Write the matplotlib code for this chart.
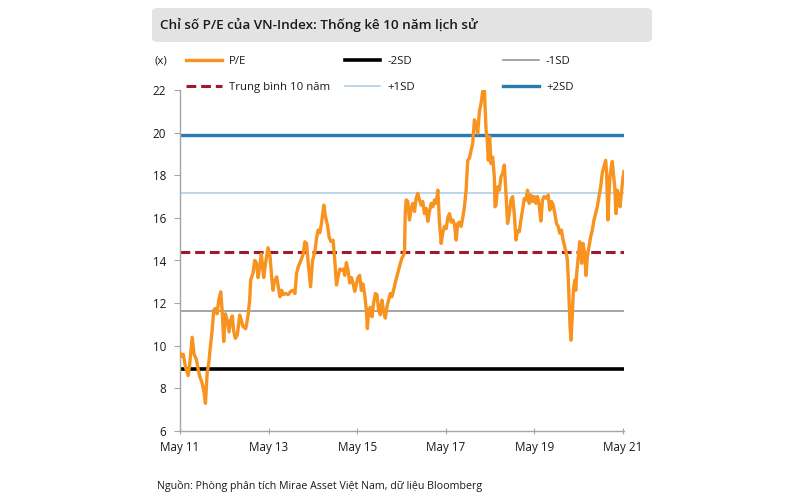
import matplotlib
matplotlib.use("Agg")
import matplotlib.pyplot as plt
import matplotlib.dates as mdates
from matplotlib.patches import FancyBboxPatch
import pandas as pd

plt.rcParams['font.family'] = ['Open Sans', 'Noto Sans', 'DejaVu Sans']

# decimal-year time stamps and P/E values
years = [
    2011.333, 2011.362, 2011.401, 2011.452, 2011.513, 2011.551, 2011.603, 2011.648, 2011.700, 2011.738,
    2011.777, 2011.829, 2011.874, 2011.903, 2011.941, 2011.979, 2012.015, 2012.054, 2012.092, 2012.128,
    2012.166, 2012.205, 2012.250, 2012.286, 2012.317, 2012.353, 2012.398, 2012.437, 2012.475, 2012.511,
    2012.542, 2012.579, 2012.624, 2012.678, 2012.714, 2012.752, 2012.813, 2012.865, 2012.903, 2012.925,
    2012.977, 2013.015, 2013.051, 2013.090, 2013.128, 2013.164, 2013.218, 2013.254, 2013.315, 2013.360,
    2013.398, 2013.428, 2013.457, 2013.511, 2013.547, 2013.585, 2013.624, 2013.660, 2013.714, 2013.772,
    2013.826, 2013.885, 2013.923, 2013.961, 2013.997, 2014.058, 2014.110, 2014.148, 2014.187, 2014.223,
    2014.277, 2014.322, 2014.374, 2014.412, 2014.448, 2014.486, 2014.524, 2014.576, 2014.615, 2014.660,
    2014.696, 2014.734, 2014.786, 2014.824, 2014.862, 2014.898, 2014.937, 2014.975, 2015.020, 2015.049,
    2015.087, 2015.124, 2015.162, 2015.200, 2015.236, 2015.275, 2015.313, 2015.349, 2015.387, 2015.425,
    2015.461, 2015.500, 2015.538, 2015.561, 2015.590, 2015.628, 2015.664, 2015.702, 2015.741, 2015.777,
    2015.815, 2015.853, 2015.889, 2015.928, 2015.966, 2016.002, 2016.040, 2016.079, 2016.115, 2016.153,
    2016.191, 2016.227, 2016.266, 2016.304, 2016.340, 2016.378, 2016.401, 2016.416, 2016.439, 2016.475,
    2016.513, 2016.552, 2016.588, 2016.626, 2016.664, 2016.700, 2016.739, 2016.777, 2016.813, 2016.851,
    2016.889, 2016.926, 2016.964, 2017.002, 2017.038, 2017.076, 2017.115, 2017.151, 2017.189, 2017.227,
    2017.263, 2017.302, 2017.340, 2017.376, 2017.414, 2017.453, 2017.489, 2017.527, 2017.565, 2017.601,
    2017.639, 2017.678, 2017.714, 2017.752, 2017.790, 2017.826, 2017.865, 2017.903, 2017.939, 2017.977,
    2018.016, 2018.052, 2018.090, 2018.128, 2018.164, 2018.203, 2018.241, 2018.263, 2018.293, 2018.322,
    2018.353, 2018.390, 2018.428, 2018.443, 2018.466, 2018.502, 2018.540, 2018.579, 2018.615, 2018.653,
    2018.691, 2018.727, 2018.766, 2018.804, 2018.840, 2018.878, 2018.917, 2018.953, 2018.991, 2019.029,
    2019.065, 2019.103, 2019.142, 2019.178, 2019.216, 2019.254, 2019.290, 2019.329, 2019.367, 2019.403,
    2019.441, 2019.480, 2019.516, 2019.554, 2019.606, 2019.644, 2019.682, 2019.718, 2019.757, 2019.795,
    2019.831, 2019.869, 2019.907, 2019.943, 2019.982, 2020.020, 2020.056, 2020.079, 2020.101, 2020.124,
    2020.139, 2020.162, 2020.191, 2020.214, 2020.245, 2020.268, 2020.290, 2020.326, 2020.358, 2020.380,
    2020.403, 2020.432, 2020.470, 2020.500, 2020.529, 2020.567, 2020.606, 2020.642, 2020.680, 2020.718,
    2020.754, 2020.793, 2020.831, 2020.867, 2020.905, 2020.944, 2020.966, 2020.995, 2021.018, 2021.040,
    2021.070, 2021.092, 2021.115, 2021.147, 2021.176, 2021.205, 2021.236, 2021.266, 2021.295, 2021.326,
    2021.356,
]
pe = [
    9.65, 9.5, 9.6, 9.0, 8.6, 9.2, 10.4, 9.6, 9.35, 8.9,
    8.55, 8.24, 7.8, 7.3, 8.7, 9.2, 9.95, 10.7, 11.67, 11.75,
    11.5, 12.14, 12.53, 11.5, 10.2, 11.5, 11.2, 10.65, 11.2, 11.4,
    10.7, 10.35, 10.5, 11.44, 11.2, 10.9, 10.8, 11.4, 12.14, 13.08,
    13.4, 14.0, 13.9, 13.2, 13.7, 14.3, 13.2, 13.8, 14.6, 14.2,
    13.23, 12.6, 13.0, 13.23, 12.77, 12.3, 12.6, 12.4, 12.45, 12.4,
    12.55, 12.6, 12.45, 13.4, 13.7, 14.0, 14.3, 14.88, 14.8, 13.9,
    12.77, 14.0, 14.4, 15.05, 15.43, 15.3, 15.74, 16.6, 16.05, 15.65,
    15.1, 14.9, 14.95, 14.0, 12.85, 13.23, 13.6, 13.55, 13.6, 13.3,
    13.9, 13.55, 12.95, 13.2, 12.95, 12.55, 12.9, 13.2, 13.3, 12.6,
    12.9, 12.4, 11.67, 10.81, 11.67, 11.8, 11.36, 12.0, 12.45, 12.4,
    11.67, 11.45, 12.14, 11.6, 11.3, 11.8, 12.14, 12.45, 12.3, 12.6,
    12.95, 13.23, 13.55, 13.85, 14.1, 14.25, 14.4, 16.2, 16.84, 16.77,
    15.9, 16.45, 16.68, 16.3, 16.92, 17.15, 16.84, 16.6, 16.77, 16.2,
    16.45, 15.84, 16.3, 16.68, 16.52, 16.84, 16.68, 17.3, 15.75, 14.8,
    15.3, 15.6, 15.5, 16.0, 16.2, 15.8, 15.9, 15.7, 14.96, 15.74,
    15.8, 15.6, 16.0, 16.52, 17.3, 18.7, 18.8, 19.18, 19.5, 20.6,
    20.43, 19.97, 20.98, 21.37, 21.92, 22.0, 20.1, 19.8, 18.7, 19.8,
    18.55, 18.85, 17.93, 16.52, 16.6, 17.46, 17.3, 17.93, 18.1, 18.48,
    17.15, 15.74, 16.2, 16.84, 17.0, 16.2, 14.96, 15.4, 15.35, 15.9,
    16.36, 16.9, 16.84, 17.3, 16.68, 17.07, 16.77, 17.0, 16.68, 17.0,
    16.6, 15.85, 16.84, 17.0, 16.92, 17.07, 16.36, 16.77, 16.6, 16.2,
    15.75, 15.6, 15.28, 15.43, 14.96, 14.65, 14.33, 14.02, 13.08, 11.83,
    10.89, 10.26, 11.5, 12.6, 13.08, 12.6, 13.4, 14.18, 14.88, 14.5,
    13.87, 14.8, 14.33, 13.3, 14.18, 14.65, 15.12, 15.43, 15.9, 16.2,
    16.52, 17.0, 17.46, 18.1, 18.4, 18.7, 18.1, 15.9, 17.15, 17.93,
    18.4, 18.65, 18.1, 17.46, 16.2, 17.3, 17.0, 16.52, 17.15, 17.77,
    18.17,
]

band_labels = ["-2SD", "-1SD", "Trung bình 10 năm", "+1SD", "+2SD"]
band_values = [8.9, 11.65, 14.4, 17.15, 19.9]

tick_years = [2011, 2013, 2015, 2017, 2019, 2021]
y_ticks = [6, 8, 10, 12, 14, 16, 18, 20, 22]

title = "Chỉ số P/E của VN-Index: Thống kê 10 năm lịch sử"
source = "Nguồn: Phòng phân tích Mirae Asset Việt Nam, dữ liệu Bloomberg"

dates = [pd.Timestamp(int(y), 1, 1) + pd.Timedelta(days=(y - int(y)) * 365.25) for y in years]

fig = plt.figure(figsize=(8, 5), dpi=100)
fig.patch.set_facecolor("white")
ax = fig.add_axes([0.225, 0.138, 0.555, 0.682])

styles = {
    "-2SD": dict(color="black", lw=2.6, ls="-"),
    "-1SD": dict(color="#8c8c8c", lw=1.1, ls="-"),
    "Trung bình 10 năm": dict(color="#a01a2c", lw=2.2, ls=(0, (3.2, 1.6))),
    "+1SD": dict(color="#a8cbe4", lw=1.1, ls="-"),
    "+2SD": dict(color="#2a7bb2", lw=2.4, ls="-"),
}

handles = {}
for lab, val in zip(band_labels, band_values):
    h = ax.axhline(val, label=lab, zorder=2, **styles[lab])
    handles[lab] = h
(hpe,) = ax.plot(dates, pe, color="#f7931e", lw=2.4, label="P/E", zorder=3)
handles["P/E"] = hpe

ax.set_ylim(6, 22)
ax.set_yticks(y_ticks)
ax.set_xlim(pd.Timestamp("2011-05-01"), dates[-1])
ax.set_xticks([pd.Timestamp(y, 5, 1) for y in tick_years])
ax.xaxis.set_major_formatter(mdates.DateFormatter("%b %y"))
for s in ["top", "right"]:
    ax.spines[s].set_visible(False)
for s in ["left", "bottom"]:
    ax.spines[s].set_color("#a6a6a6")
    ax.spines[s].set_linewidth(1.0)
ax.tick_params(axis="y", direction="out", length=4, color="#a6a6a6", labelsize=8.4, pad=6, labelcolor="#1a1a1a")
ax.tick_params(axis="x", direction="inout", length=5, color="#a6a6a6", labelsize=8.4, pad=5, labelcolor="#1a1a1a")

# legends (three columns)
cols = [["P/E", "Trung bình 10 năm"], ["-2SD", "+1SD"], ["-1SD", "+2SD"]]
xs = [0.233, 0.431, 0.629]
for labs, x in zip(cols, xs):
    leg = fig.legend([handles[l] for l in labs], labs, loc="upper left",
                     bbox_to_anchor=(x, 0.888), frameon=False, fontsize=8.2,
                     handlelength=3.1, handletextpad=0.65, labelspacing=1.3,
                     borderpad=0, borderaxespad=0)
    for t in leg.get_texts():
        t.set_color("#1a1a1a")

fig.text(0.193, 0.878, "(x)", fontsize=8.2, color="#1a1a1a", va="center")

# title box
box = FancyBboxPatch((0.19, 0.916), 0.625, 0.068, boxstyle="round,pad=0,rounding_size=0.008",
                     transform=fig.transFigure, facecolor="#e3e3e3", edgecolor="none")
fig.patches.append(box)
fig.text(0.2, 0.95, title, fontsize=9.7, fontweight="semibold", color="#1a1a1a", va="center")

fig.text(0.196, 0.028, source, fontsize=7.7, color="#1a1a1a", va="center")

fig.savefig("out.png", dpi=100)
